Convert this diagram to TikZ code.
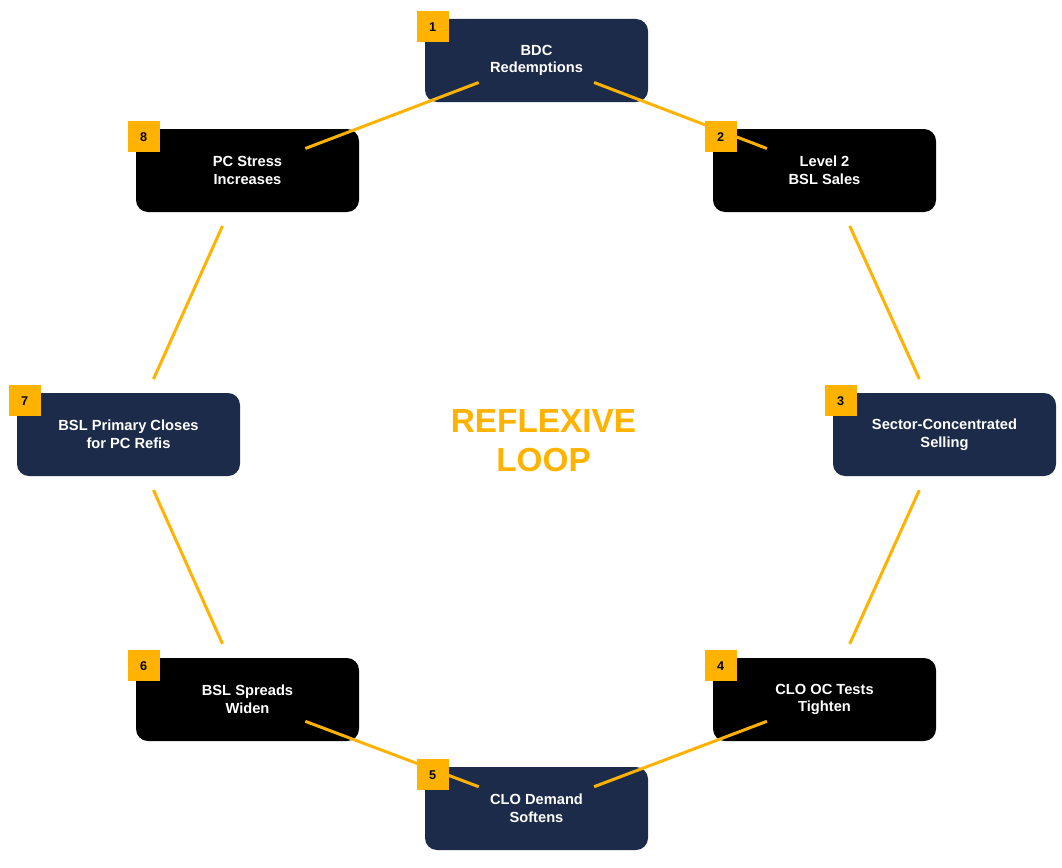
\documentclass[tikz,border=0pt]{standalone}
\usepackage{fontspec}
\setmainfont{Liberation Sans}
\usetikzlibrary{calc}
\definecolor{navy}{HTML}{1C2B4A}
\definecolor{gold}{HTML}{FFB300}
\begin{document}
\begin{tikzpicture}[x=0.75pt,y=-0.75pt,
  box/.style={rounded corners=9pt, minimum width=167.25pt, minimum height=62.25pt, inner sep=0pt, text=white, font=\bfseries\fontsize{11}{13.3}\selectfont, align=center},
  navybox/.style={box, fill=navy},
  blackbox/.style={box, fill=black},
  badge/.style={fill=gold, minimum width=24pt, minimum height=23.25pt, inner sep=0pt, text=black, font=\bfseries\fontsize{9.5}{11}\selectfont},
  link/.style={draw=gold, line width=2.25pt}
]
\useasboundingbox (0,0) rectangle (1062,867);
\node[navybox]  (b1) at (536.5,60.5)  {BDC\\Redemptions};
\node[blackbox] (b2) at (824.5,170.5) {Level 2\\BSL Sales};
\node[navybox]  (b3) at (944.5,434.5) {Sector-Concentrated\\Selling};
\node[blackbox] (b4) at (824.5,699.5) {CLO OC Tests\\Tighten};
\node[navybox]  (b5) at (536.5,808.5) {CLO Demand\\Softens};
\node[blackbox] (b6) at (247.5,699.5) {BSL Spreads\\Widen};
\node[navybox]  (b7) at (128.5,434.5) {BSL Primary Closes\\for PC Refis};
\node[blackbox] (b8) at (247.5,170.5) {PC Stress\\Increases};
\node[text=gold, font=\bfseries\fontsize{25}{29}\selectfont, align=center] (title) at (543.5,441) {REFLEXIVE\\LOOP};
\draw[link] ($(b1)!0.2!(b2)$) -- ($(b1)!0.8!(b2)$);
\draw[link] ($(b2)!0.21!(b3)$) -- ($(b2)!0.79!(b3)$);
\draw[link] ($(b3)!0.21!(b4)$) -- ($(b3)!0.79!(b4)$);
\draw[link] ($(b4)!0.2!(b5)$) -- ($(b4)!0.8!(b5)$);
\draw[link] ($(b5)!0.2!(b6)$) -- ($(b5)!0.8!(b6)$);
\draw[link] ($(b6)!0.21!(b7)$) -- ($(b6)!0.79!(b7)$);
\draw[link] ($(b7)!0.21!(b8)$) -- ($(b7)!0.79!(b8)$);
\draw[link] ($(b8)!0.2!(b1)$) -- ($(b8)!0.8!(b1)$);
\foreach \n in {1,...,8}
  \node[badge] (bd\n) at ($(b\n.north west)+(8,8)$) {\n};
\end{tikzpicture}
\end{document}
